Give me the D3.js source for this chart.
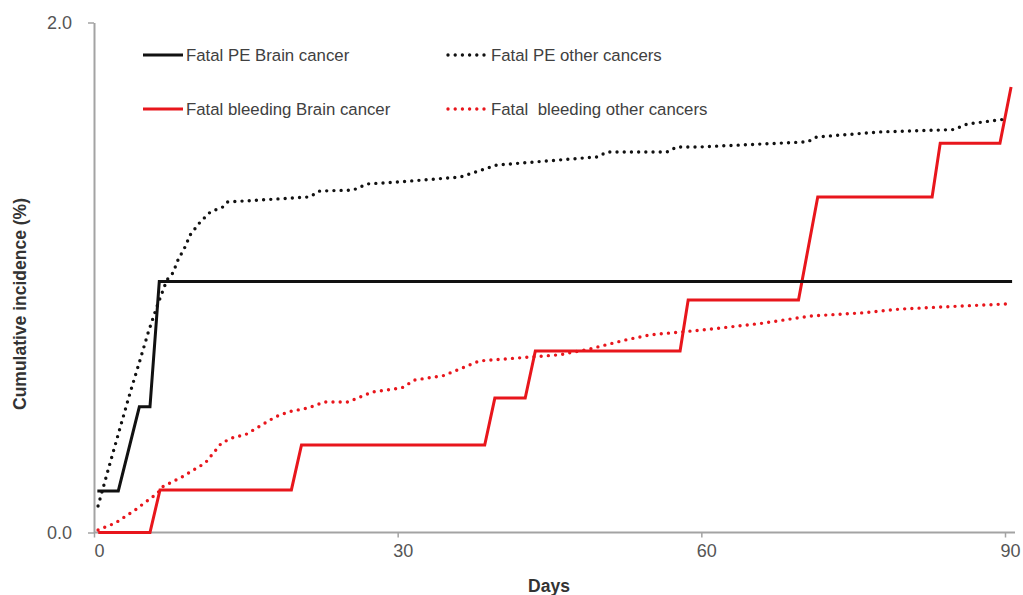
<!DOCTYPE html>
<html>
<head>
<meta charset="utf-8">
<script src="https://cdn.jsdelivr.net/npm/d3@7"></script>
<style>
  html, body { margin: 0; padding: 0; background: #fff; }
  svg { display: block; font-family: "Liberation Sans", Arial, sans-serif; }
</style>
</head>
<body>
<svg id="chart" width="1023" height="595"></svg>
<script>
// Cumulative incidence (%) of fatal PE and fatal bleeding by day of follow-up
const xTicks = [0, 30, 60, 90];
const yTicks = [0, 2];

// [day, cumulative incidence %]
const peBrain = [
  [0.33, 0.163], [2.4, 0.163], [4.48, 0.493], [5.53, 0.493], [6.45, 0.984], [90.7, 0.984]
];
const peOther = [
  [0.4, 0.104], [1.5, 0.26], [2.5, 0.40], [3.56, 0.547], [4.5, 0.67], [5.4, 0.79],
  [6.2, 0.884], [7.2, 0.99], [7.8, 1.018], [8.3, 1.069], [9.0, 1.12], [9.5, 1.167],
  [10.5, 1.218], [11.5, 1.257], [12.7, 1.276], [13.2, 1.296], [21.3, 1.316],
  [22.3, 1.339], [25.6, 1.343], [27.0, 1.367], [30.2, 1.375], [36.2, 1.394],
  [39.8, 1.441], [49.7, 1.473], [50.7, 1.492], [56.6, 1.492], [57.6, 1.512],
  [59.9, 1.512], [70.5, 1.532], [71.4, 1.551], [77.7, 1.571], [84.9, 1.58],
  [86.3, 1.602], [90.2, 1.622]
];
const bleedBrain = [
  [0.42, 0], [5.53, 0], [6.52, 0.167], [19.5, 0.167], [20.5, 0.343], [38.6, 0.343],
  [39.6, 0.527], [42.6, 0.527], [43.6, 0.712], [57.9, 0.712], [58.7, 0.912],
  [69.6, 0.912], [71.5, 1.316], [82.8, 1.316], [83.6, 1.526], [89.5, 1.526],
  [90.6, 1.747]
];
const bleedOther = [
  [0.4, 0.01], [2.1, 0.037], [4.05, 0.088], [6.3, 0.155], [6.7, 0.178], [8.7, 0.218],
  [11.0, 0.273], [12.6, 0.351], [13.9, 0.375], [14.9, 0.382], [17.9, 0.453],
  [19.2, 0.473], [21.1, 0.488], [22.8, 0.512], [25.1, 0.512], [27.5, 0.551],
  [30.4, 0.567], [31.7, 0.598], [34.5, 0.615], [38.1, 0.673], [43.1, 0.688],
  [46.0, 0.697], [49.0, 0.72], [52.5, 0.755], [54.9, 0.775], [60.1, 0.794],
  [65.9, 0.82], [70.8, 0.849], [75.8, 0.861], [79.6, 0.876], [85.6, 0.888],
  [90.1, 0.896]
];

const seriesNames = [
  "Fatal PE Brain cancer", "Fatal PE other cancers",
  "Fatal bleeding Brain cancer", "Fatal  bleeding other cancers"
];

const BLACK = "#111111", RED = "#e8161c", AXIS = "#a3a3a3";

const svg = d3.select("#chart");
const x = d3.scaleLinear().domain([0, 90]).range([94, 1005]);
const y = d3.scaleLinear().domain([0, 2]).range([532.5, 22.5]);

// axes
const yAxis = svg.append("g").attr("transform", "translate(94,0)")
  .call(d3.axisLeft(y).tickValues(yTicks).tickFormat(d3.format(".1f")).tickSize(6).tickSizeOuter(0).tickPadding(10));
const xAxis = svg.append("g").attr("transform", "translate(0,532.5)")
  .call(d3.axisBottom(x).tickValues(xTicks).tickSize(5).tickSizeOuter(0).tickPadding(8));
xAxis.select(".domain").remove();
svg.append("line").attr("x1", 94).attr("x2", 1015).attr("y1", 532.5).attr("y2", 532.5)
  .attr("stroke", AXIS).attr("stroke-width", 2);
[yAxis, xAxis].forEach(g => {
  g.selectAll(".domain").attr("stroke", AXIS).attr("stroke-width", 2);
  g.selectAll(".tick line").attr("stroke", AXIS).attr("stroke-width", 1.5);
  g.selectAll(".tick text").attr("fill", "#555").style("font-size", "18px")
    .style("font-family", "'Liberation Sans', Arial, sans-serif");
});
yAxis.selectAll(".tick text").attr("dx", -6);
xAxis.selectAll(".tick text").attr("dx", 5).attr("dy", "0.65em");

// axis titles
svg.append("text").attr("x", 549).attr("y", 592).attr("text-anchor", "middle")
  .attr("fill", "#333").style("font-size", "17.5px").style("font-weight", "bold").text("Days");
svg.append("text").attr("transform", "translate(26,304) rotate(-90)").attr("text-anchor", "middle")
  .attr("fill", "#333").style("font-size", "17.5px").style("font-weight", "bold")
  .text("Cumulative incidence (%)");

// series
const line = d3.line().x(d => x(d[0])).y(d => y(d[1]));
const styles = [
  { data: peBrain, color: BLACK, dotted: false },
  { data: peOther, color: BLACK, dotted: true },
  { data: bleedBrain, color: RED, dotted: false },
  { data: bleedOther, color: RED, dotted: true }
];
function applyStyle(sel, s) {
  sel.attr("fill", "none").attr("stroke", s.color);
  if (s.dotted) {
    sel.attr("stroke-width", 3.4).attr("stroke-linecap", "round").attr("stroke-dasharray", "0 7.2");
  } else {
    sel.attr("stroke-width", 3).attr("stroke-linejoin", "miter");
  }
}
[3, 2, 1, 0].forEach(i => {
  applyStyle(svg.append("path").attr("d", line(styles[i].data)), styles[i]);
});

// legend
const legendPos = [[143, 55], [448, 55], [143, 109], [448, 109]];
styles.forEach((s, i) => {
  const [lx, ly] = legendPos[i];
  applyStyle(svg.append("line").attr("x1", lx).attr("x2", lx + 40).attr("y1", ly).attr("y2", ly), s);
  svg.append("text").attr("x", lx + 43).attr("y", ly).attr("dy", "0.35em")
    .attr("fill", "#404040").style("font-size", "16.8px").style("white-space", "pre")
    .text(seriesNames[i]);
});
</script>
</body>
</html>
